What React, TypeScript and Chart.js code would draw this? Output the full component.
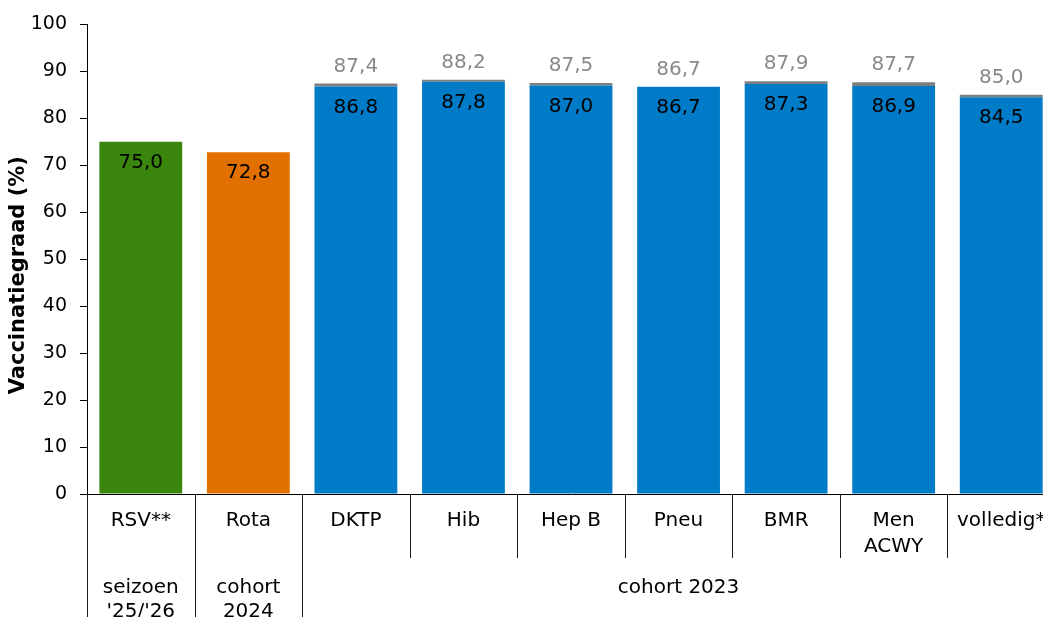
import React, { useEffect, useRef } from "react";
import { Chart, registerables } from "chart.js";

Chart.register(...registerables);

const categories: string[][] = [
  ["RSV**"],
  ["Rota"],
  ["DKTP"],
  ["Hib"],
  ["Hep B"],
  ["Pneu"],
  ["BMR"],
  ["Men", "ACWY"],
  ["volledig*"],
];

const baseValues: number[] = [75.0, 72.8, 86.8, 87.8, 87.0, 86.7, 87.3, 86.9, 84.5];
const totalValues: (number | null)[] = [null, null, 87.4, 88.2, 87.5, 86.7, 87.9, 87.7, 85.0];
const barColors: string[] = [
  "#3B870E",
  "#E17000",
  "#007BC7",
  "#007BC7",
  "#007BC7",
  "#007BC7",
  "#007BC7",
  "#007BC7",
  "#007BC7",
];

// group labels: [first category index, last category index, lines]
const groups: { from: number; to: number; lines: string[] }[] = [
  { from: 0, to: 0, lines: ["seizoen", "'25/'26"] },
  { from: 1, to: 1, lines: ["cohort", "2024"] },
  { from: 2, to: 8, lines: ["cohort 2023"] },
];

const yTitle = "Vaccinatiegraad (%)";
const yTicksMax = 100;
const yStep = 10;

const FONT = "'DejaVu Sans', Verdana, sans-serif";

const fmt = (v: number) => v.toFixed(1).replace(".", ",");

const gapValues = baseValues.map((b, i) => {
  const t = totalValues[i];
  return t === null ? null : Math.round((t - b) * 10) / 10;
});

const annotatePlugin = {
  id: "annotate",
  afterDatasetsDraw(chart: any) {
    const ctx = chart.ctx as CanvasRenderingContext2D;
    const x = chart.scales.x;
    const y = chart.scales.y;
    ctx.save();
    ctx.textAlign = "center";
    ctx.textBaseline = "middle";
    ctx.font = `20px ${FONT}`;
    for (let i = 0; i < baseValues.length; i++) {
      const px = x.getPixelForValue(i);
      ctx.fillStyle = "#000000";
      ctx.fillText(fmt(baseValues[i]), px, y.getPixelForValue(baseValues[i]) + 21);
      const t = totalValues[i];
      if (t !== null) {
        ctx.fillStyle = "#898989";
        ctx.fillText(fmt(t), px, y.getPixelForValue(t) - 17);
      }
    }
    ctx.restore();
  },
  afterDraw(chart: any) {
    const ctx = chart.ctx as CanvasRenderingContext2D;
    const x = chart.scales.x;
    const area = chart.chartArea;
    const n = categories.length;
    const edge = (k: number) => {
      if (k <= 0) return area.left;
      if (k >= n) return area.right;
      return (x.getPixelForValue(k - 1) + x.getPixelForValue(k)) / 2;
    };
    ctx.save();
    ctx.strokeStyle = "#1a1a1a";
    ctx.lineWidth = 1;
    const bottom = area.bottom;
    const groupStarts = new Set(groups.map((g) => g.from));
    groupStarts.add(n);
    for (let k = 0; k <= n; k++) {
      const ex = Math.round(edge(k)) + 0.5;
      const end = groupStarts.has(k) ? chart.height : bottom + 64;
      ctx.beginPath();
      ctx.moveTo(ex, bottom);
      ctx.lineTo(ex, end);
      ctx.stroke();
    }
    ctx.fillStyle = "#000000";
    ctx.font = `20px ${FONT}`;
    ctx.textAlign = "center";
    ctx.textBaseline = "alphabetic";
    for (const g of groups) {
      const cx = (edge(g.from) + edge(g.to + 1)) / 2;
      g.lines.forEach((line, j) => {
        ctx.fillText(line, cx, bottom + 99 + j * 24);
      });
    }
    // y axis title
    ctx.save();
    ctx.translate(19, (area.top + area.bottom) / 2 + 16);
    ctx.rotate(-Math.PI / 2);
    ctx.font = `bold 21px ${FONT}`;
    ctx.textAlign = "center";
    ctx.textBaseline = "middle";
    ctx.fillText(yTitle, 0, 0);
    ctx.restore();
    ctx.restore();
  },
};

export default function App() {
  const ref = useRef<HTMLCanvasElement | null>(null);
  useEffect(() => {
    if (!ref.current) return;
    Chart.defaults.font.family = FONT;
    const chart = new Chart(ref.current, {
      type: "bar",
      data: {
        labels: categories,
        datasets: [
          {
            data: baseValues,
            backgroundColor: barColors,
            borderWidth: 0,
            categoryPercentage: 1,
            barPercentage: 0.77,
            stack: "s",
          },
          {
            data: gapValues,
            backgroundColor: "#7F7F7F",
            borderWidth: 0,
            categoryPercentage: 1,
            barPercentage: 0.77,
            stack: "s",
          },
        ],
      },
      options: {
        animation: false,
        responsive: false,
        devicePixelRatio: 1,
        layout: { padding: { top: 23, right: 5, left: 0, bottom: 0 } },
        plugins: { legend: { display: false }, tooltip: { enabled: false } },
        scales: {
          x: {
            stacked: true,
            grid: { display: false, drawTicks: false },
            border: { display: true, color: "#000000", width: 1 },
            ticks: {
              color: "#000000",
              font: { size: 20, lineHeight: 1.3 },
              padding: 14,
              maxRotation: 0,
              autoSkip: false,
            },
            afterFit: (s: any) => {
              s.height = 123;
            },
          },
          y: {
            stacked: true,
            min: 0,
            max: yTicksMax,
            grid: {
              drawOnChartArea: false,
              drawTicks: true,
              tickLength: 7,
              color: "#000000",
            },
            border: { display: true, color: "#000000", width: 1 },
            ticks: {
              stepSize: yStep,
              color: "#000000",
              font: { size: 19 },
              padding: 13,
            },
            afterFit: (s: any) => {
              s.width = 87;
            },
          },
        },
      },
      plugins: [annotatePlugin],
    });
    return () => chart.destroy();
  }, []);
  return (
    <div
      style={{
        position: "absolute",
        left: 0,
        top: 0,
        width: 1043,
        height: 617,
        overflow: "hidden",
        background: "#ffffff",
      }}
    >
      <canvas ref={ref} width={1060} height={617} style={{ display: "block" }} />
    </div>
  );
}
